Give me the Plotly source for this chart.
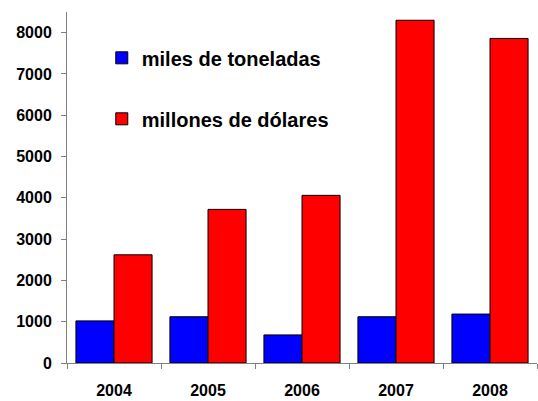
import plotly.graph_objects as go

years = ["2004", "2005", "2006", "2007", "2008"]
miles_toneladas = [1020, 1120, 680, 1120, 1185]
millones_dolares = [2620, 3720, 4060, 8300, 7860]
y_ticks = [0, 1000, 2000, 3000, 4000, 5000, 6000, 7000, 8000]

font_family = "Arial, Liberation Sans, sans-serif"

fig = go.Figure()
fig.add_trace(go.Bar(
    x=years, y=miles_toneladas, name="miles de toneladas",
    marker=dict(color="#0000FF", line=dict(color="#000000", width=1)),
    legendgroup="a",
))
fig.add_trace(go.Bar(
    x=years, y=millones_dolares, name="millones de dólares",
    marker=dict(color="#FF0000", line=dict(color="#000000", width=1)),
    legendgroup="b",
))

fig.update_layout(
    width=538, height=401,
    margin=dict(l=67, r=1, t=12, b=38),
    paper_bgcolor="white", plot_bgcolor="white",
    barmode="group", bargap=0.19, bargroupgap=0,
    showlegend=True,
    legend=dict(
        x=0.074, y=0.925, xanchor="left", yanchor="top",
        bgcolor="rgba(0,0,0,0)",
        font=dict(family=font_family, size=20, color="black", weight="bold"),
        tracegroupgap=32,
        itemwidth=30,
    ),
    xaxis=dict(
        showgrid=False, showline=True, linecolor="#808080", linewidth=1,
        ticks="outside", tickson="boundaries", ticklen=5, tickcolor="#808080",
        ticklabelstandoff=13,
        tickfont=dict(family=font_family, size=16, color="black", weight="bold"),
    ),
    yaxis=dict(
        range=[0, 8500], showgrid=False, zeroline=False,
        showline=True, linecolor="#808080", linewidth=1,
        tickvals=y_ticks, ticks="outside", ticklen=5, tickcolor="#808080",
        ticklabelstandoff=6,
        tickfont=dict(family=font_family, size=16, color="black", weight="bold"),
    ),
)

fig.write_html("out.html", config={"displayModeBar": False},
               post_script="document.body.style.margin='0';")
